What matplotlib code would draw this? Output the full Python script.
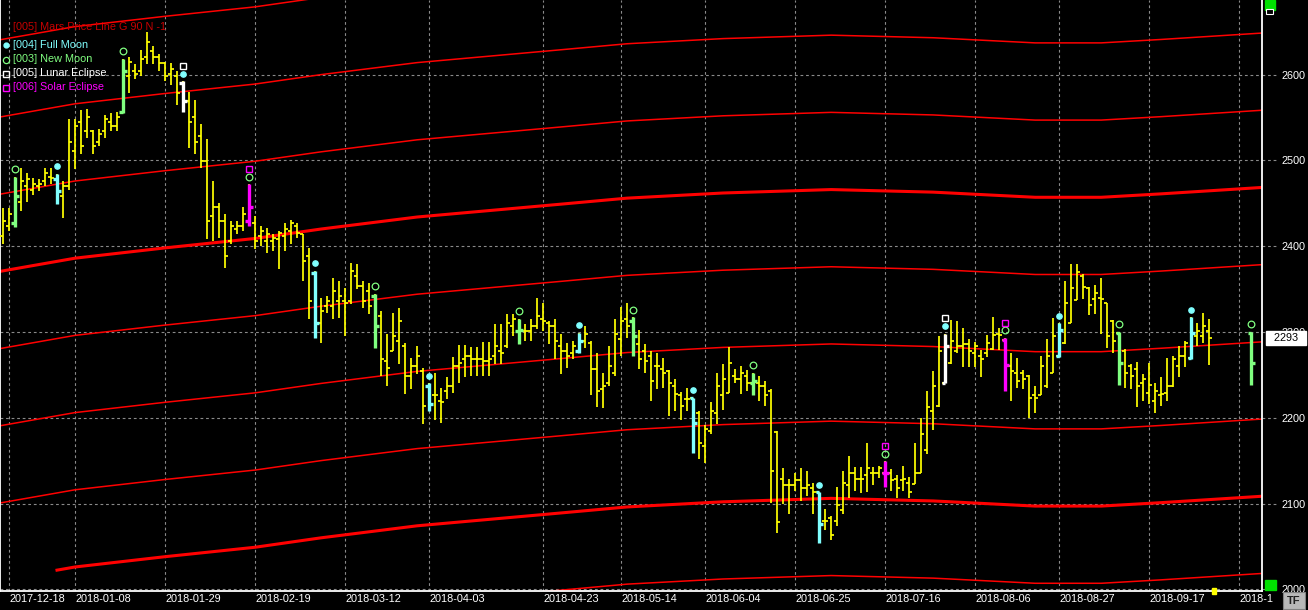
import numpy as np
import matplotlib.pyplot as plt
from matplotlib.patches import Rectangle

W, H = 1308, 610
plt.rcParams['font.family'] = ['Liberation Sans', 'DejaVu Sans']

# daily OHLC, one bar per trading day
highs = [2445, 2444, 2481, 2491, 2485, 2479, 2478, 2491, 2491, 2484,
         2476, 2548, 2548, 2559, 2560, 2536, 2537, 2553, 2555, 2557,
         2618, 2621, 2612, 2629, 2650, 2633, 2624, 2615, 2613, 2604,
         2592, 2580, 2571, 2542, 2525, 2476, 2450, 2438, 2429, 2429,
         2446, 2472, 2435, 2423, 2421, 2414, 2418, 2427, 2431, 2427,
         2414, 2398, 2371, 2340, 2342, 2363, 2359, 2351, 2380, 2379,
         2359, 2357, 2344, 2324, 2298, 2322, 2328, 2287, 2270, 2284,
         2258, 2240, 2252, 2235, 2247, 2271, 2285, 2285, 2283, 2283,
         2288, 2288, 2309, 2309, 2321, 2321, 2315, 2309, 2315, 2340,
         2334, 2313, 2315, 2298, 2287, 2289, 2299, 2307, 2289, 2275,
         2252, 2284, 2315, 2329, 2334, 2317, 2302, 2286, 2278, 2275,
         2270, 2256, 2245, 2230, 2235, 2223, 2208, 2191, 2218, 2252,
         2263, 2283, 2257, 2260, 2256, 2252, 2249, 2243, 2233, 2185,
         2141, 2129, 2135, 2141, 2138, 2124, 2113, 2094, 2086, 2119,
         2138, 2155, 2142, 2143, 2170, 2143, 2144, 2149, 2140, 2133,
         2144, 2131, 2170, 2200, 2231, 2254, 2295, 2298, 2314, 2313,
         2305, 2292, 2288, 2279, 2297, 2317, 2305, 2293, 2276, 2270,
         2256, 2250, 2237, 2272, 2292, 2316, 2310, 2359, 2379, 2379,
         2367, 2352, 2355, 2363, 2334, 2314, 2300, 2280, 2263, 2265,
         2251, 2264, 2240, 2247, 2270, 2272, 2284, 2289, 2317, 2310,
         2322, 2315]
lows = [2402, 2418, 2422, 2441, 2452, 2460, 2464, 2470, 2473, 2449,
        2433, 2466, 2490, 2507, 2526, 2507, 2517, 2526, 2534, 2534,
        2555, 2578, 2595, 2598, 2612, 2612, 2604, 2592, 2588, 2565,
        2557, 2514, 2507, 2491, 2408, 2406, 2409, 2374, 2402, 2414,
        2418, 2423, 2397, 2400, 2392, 2394, 2373, 2394, 2402, 2409,
        2359, 2315, 2293, 2287, 2322, 2315, 2316, 2295, 2333, 2350,
        2328, 2321, 2281, 2249, 2237, 2278, 2263, 2228, 2234, 2251,
        2193, 2208, 2197, 2194, 2222, 2229, 2240, 2247, 2249, 2249,
        2249, 2249, 2263, 2263, 2281, 2295, 2286, 2289, 2289, 2304,
        2301, 2286, 2269, 2251, 2258, 2269, 2276, 2281, 2226, 2212,
        2211, 2237, 2249, 2272, 2293, 2272, 2257, 2252, 2220, 2234,
        2235, 2202, 2208, 2197, 2208, 2159, 2152, 2147, 2181, 2193,
        2209, 2229, 2241, 2228, 2231, 2226, 2220, 2214, 2101, 2066,
        2100, 2088, 2115, 2103, 2109, 2088, 2054, 2069, 2057, 2074,
        2088, 2106, 2115, 2112, 2113, 2121, 2130, 2119, 2115, 2106,
        2115, 2107, 2123, 2135, 2158, 2186, 2212, 2240, 2263, 2275,
        2259, 2259, 2259, 2247, 2271, 2279, 2279, 2231, 2219, 2235,
        2233, 2200, 2206, 2226, 2235, 2252, 2271, 2286, 2310, 2337,
        2338, 2320, 2321, 2298, 2281, 2275, 2238, 2235, 2234, 2212,
        2220, 2216, 2205, 2214, 2219, 2236, 2247, 2259, 2268, 2284,
        2287, 2262]
opens = [2412, 2423, 2427, 2452, 2470, 2466, 2470, 2476, 2481, 2478,
         2458, 2470, 2511, 2545, 2534, 2534, 2522, 2534, 2545, 2540,
         2557, 2598, 2604, 2604, 2621, 2627, 2621, 2613, 2601, 2598,
         2590, 2569, 2551, 2528, 2499, 2435, 2446, 2429, 2406, 2420,
         2423, 2429, 2427, 2412, 2406, 2406, 2408, 2412, 2418, 2423,
         2414, 2388, 2369, 2310, 2330, 2330, 2336, 2336, 2336, 2365,
         2354, 2348, 2342, 2319, 2266, 2278, 2289, 2284, 2249, 2260,
         2255, 2237, 2226, 2220, 2231, 2237, 2260, 2269, 2272, 2269,
         2269, 2266, 2272, 2278, 2284, 2307, 2301, 2301, 2301, 2307,
         2315, 2310, 2307, 2284, 2278, 2276, 2278, 2289, 2287, 2257,
         2234, 2241, 2252, 2292, 2315, 2313, 2286, 2278, 2272, 2260,
         2257, 2255, 2237, 2226, 2222, 2223, 2205, 2167, 2185, 2206,
         2226, 2229, 2249, 2245, 2249, 2240, 2241, 2237, 2231, 2183,
         2129, 2121, 2121, 2127, 2118, 2118, 2113, 2080, 2083, 2080,
         2092, 2121, 2136, 2129, 2133, 2136, 2136, 2136, 2136, 2129,
         2127, 2124, 2123, 2136, 2162, 2208, 2214, 2241, 2264, 2278,
         2284, 2286, 2276, 2272, 2276, 2280, 2298, 2291, 2260, 2252,
         2252, 2249, 2226, 2226, 2237, 2252, 2272, 2287, 2310, 2337,
         2365, 2351, 2338, 2340, 2334, 2313, 2299, 2278, 2260, 2257,
         2240, 2229, 2220, 2226, 2229, 2237, 2260, 2272, 2270, 2295,
         2295, 2301]
closes = [2429, 2438, 2458, 2476, 2478, 2473, 2472, 2485, 2479, 2464,
          2470, 2522, 2540, 2517, 2551, 2517, 2531, 2548, 2540, 2551,
          2604, 2615, 2601, 2618, 2638, 2621, 2613, 2598, 2606, 2578,
          2569, 2545, 2522, 2499, 2429, 2446, 2429, 2388, 2423, 2423,
          2438, 2446, 2406, 2418, 2414, 2409, 2415, 2420, 2427, 2415,
          2383, 2336, 2310, 2324, 2336, 2348, 2342, 2334, 2371, 2354,
          2336, 2330, 2307, 2269, 2258, 2295, 2313, 2249, 2260, 2272,
          2214, 2216, 2226, 2218, 2237, 2260, 2264, 2272, 2269, 2269,
          2266, 2269, 2284, 2276, 2310, 2315, 2302, 2301, 2307, 2319,
          2313, 2307, 2289, 2278, 2272, 2284, 2289, 2298, 2257, 2231,
          2237, 2260, 2298, 2313, 2307, 2295, 2269, 2266, 2243, 2260,
          2252, 2240, 2228, 2214, 2222, 2194, 2170, 2187, 2208, 2237,
          2245, 2264, 2245, 2252, 2241, 2243, 2237, 2226, 2138, 2078,
          2121, 2121, 2127, 2118, 2121, 2113, 2076, 2080, 2063, 2098,
          2124, 2136, 2129, 2129, 2141, 2136, 2141, 2136, 2127, 2118,
          2129, 2113, 2136, 2181, 2213, 2237, 2278, 2284, 2289, 2284,
          2286, 2278, 2284, 2269, 2287, 2297, 2297, 2262, 2255, 2243,
          2245, 2223, 2223, 2260, 2272, 2295, 2302, 2334, 2351, 2370,
          2352, 2331, 2345, 2338, 2295, 2289, 2264, 2252, 2249, 2237,
          2245, 2238, 2231, 2228, 2237, 2269, 2272, 2287, 2299, 2301,
          2307, 2293]

# lunar / eclipse events (bar index)
full_moon = [9, 30, 52, 71, 96, 115, 136, 157, 176, 198]
new_moon = [2, 20, 41, 62, 86, 105, 125, 147, 167, 186, 208]
lunar_eclipse = [30, 157]
solar_eclipse = [41, 147, 167]

# projected bar for the next new moon (open, high, low, close)
future_idx = 208
future_ohlc = [2299, 2300, 2238, 2264]

# Mars price line (base harmonic), read at a few bars
mars_idx = [-1, 12, 27, 42, 53, 69, 93, 104, 120, 138, 155, 172, 183, 193, 211]
mars_price = [2370, 2386, 2398, 2409, 2420, 2434, 2449, 2456, 2462, 2466,
              2463, 2457, 2457, 2461, 2469]
mars_steps = [-450, -360, -270, -180, -90, 0, 90, 180, 270]

tick_idx = [1, 12, 27, 42, 57, 71, 90, 103, 117, 132, 147, 162, 176, 191, 206]
tick_labels = ['2017-12-18', '2018-01-08', '2018-01-29', '2018-02-19',
               '2018-03-12', '2018-04-03', '2018-04-23', '2018-05-14',
               '2018-06-04', '2018-06-25', '2018-07-16', '2018-08-06',
               '2018-08-27', '2018-09-17', '2018-1']
price_ticks = [2000, 2100, 2200, 2300, 2400, 2500, 2600]
last_close = 2293

FM_C, NM_C, LE_C, SE_C = '#80ffff', '#80ff80', '#ffffff', '#ff00ff'
GRID = '#8a8a8a'

fig = plt.figure(figsize=(W / 100, H / 100), dpi=100, facecolor='black')
ax = fig.add_axes([0, 19 / H, 1262 / W, 591 / H])
ax.set_facecolor('black')
ax.set_xlim(-0.5, 209.8)
ax.set_ylim(1998, 2687)

# grid
ax.set_xticks(tick_idx)
ax.set_xticklabels(tick_labels, ha='left', color='white', fontsize=7.8)
ax.set_yticks(price_ticks)
ax.yaxis.tick_right()
ax.set_yticklabels([str(p) for p in price_ticks], color='white', fontsize=7.8)
ax.tick_params(axis='x', length=0, pad=2)
ax.tick_params(axis='y', length=0, pad=14)
ax.grid(True, color=GRID, ls=(0, (2.5, 2.5)), lw=0.8)
ax.set_axisbelow(True)
for p in price_ticks:
    ax.plot([1.0, 1.013], [p, p], transform=ax.get_yaxis_transform(),
            color=GRID, ls=(0, (2.5, 2.5)), lw=0.8, clip_on=False)

# Mars price lines (the lowest visible one starts a few bars in)
mp = np.array(mars_price)
for k in mars_steps:
    thick = k % 360 == 0
    xs, ys = np.array(mars_idx, dtype=float), mp + k
    if k == -360:
        keep = xs > 9
        xs = np.r_[9, xs[keep]]
        ys = np.r_[np.interp(9, mars_idx, mp + k), ys[keep]]
    ax.plot(xs, ys, color='#ff0000', lw=2.2 if thick else 1.1, zorder=2)

# OHLC bars
x = np.arange(len(highs))
bar_kw = dict(color='#ffff00', lw=1.25, zorder=3)
ax.vlines(x, lows, highs, **bar_kw)
ax.hlines(opens, x - 0.55, x, **bar_kw)
ax.hlines(closes, x, x + 0.55, **bar_kw)


def bar_ohlc(i):
    if i == future_idx:
        return future_ohlc
    return [opens[i], highs[i], lows[i], closes[i]]


events = sorted(set(full_moon + new_moon))
for i in events:
    o, h, l, c = bar_ohlc(i)
    if i in lunar_eclipse:
        col = LE_C
    elif i in solar_eclipse:
        col = SE_C
    elif i in full_moon:
        col = FM_C
    else:
        col = NM_C
    ev_kw = dict(color=col, lw=2.4, zorder=4)
    ax.vlines(i, l, h, **ev_kw)
    ax.hlines(o, i - 0.6, i, **ev_kw)
    ax.hlines(c, i, i + 0.6, **ev_kw)
    if i in full_moon:
        ax.plot(i, h + 9, 'o', ms=3.8, color=FM_C, mec=FM_C, zorder=5)
    else:
        ax.plot(i, h + 9, 'o', ms=4.8, mfc='none', mec=NM_C, mew=0.9, zorder=5)
    if i in lunar_eclipse:
        ax.plot(i, h + 18, 's', ms=5, mfc='none', mec=LE_C, mew=1.0, zorder=5)
    if i in solar_eclipse:
        ax.plot(i, h + 18, 's', ms=5, mfc='none', mec=SE_C, mew=1.0, zorder=5)

# last price box
ax.text(1.0045, last_close, '  2293  ', transform=ax.get_yaxis_transform(),
        color='black', fontsize=7.8, va='center', ha='left',
        bbox=dict(boxstyle='square,pad=0.2', fc='white', ec='white'))

for s in ['left', 'bottom', 'right']:
    ax.spines[s].set_color('white')
    ax.spines[s].set_linewidth(1.3)
ax.spines['top'].set_visible(False)

# legend
legend = [('[005] Mars Price Line G 90 N -1', '#c80000', None, 27),
          ('[004] Full Moon', FM_C, 'dot', 45),
          ('[003] New Moon', NM_C, 'circle', 59.5),
          ('[005] Lunar Eclipse', LE_C, 'square', 73.5),
          ('[006] Solar Eclipse', SE_C, 'square', 87.5)]
for txt, col, mk, py in legend:
    fig.text(13 / W, 1 - py / H, txt, color=col, fontsize=7.8, va='center', ha='left')
    if mk == 'dot':
        fig.add_artist(plt.Line2D([6 / W], [1 - py / H], marker='o', ms=3.5,
                                  color=col, transform=fig.transFigure))
    elif mk == 'circle':
        fig.add_artist(plt.Line2D([6 / W], [1 - py / H], marker='o', ms=4.5,
                                  mfc='none', mec=col, mew=0.9, transform=fig.transFigure))
    elif mk == 'square':
        fig.add_artist(plt.Line2D([6 / W], [1 - py / H], marker='s', ms=4.5,
                                  mfc='none', mec=col, mew=1.0, transform=fig.transFigure))


def px_rect(x0, y0, w, h, **kw):
    fig.add_artist(Rectangle((x0 / W, 1 - (y0 + h) / H), w / W, h / H,
                             transform=fig.transFigure, **kw))


px_rect(1265, 0, 10, 10, color='#00e000')
px_rect(1266, 9, 7, 5, fc='black', ec='white', lw=0.8)
px_rect(1265, 580, 11, 10, color='#00e000')
px_rect(1283, 592, 22, 17, fc='#b8b8b8', ec='#808080', lw=0.8)
fig.text(1294 / W, 1 - 600.5 / H, 'TF', color='#202020', fontsize=8,
         ha='center', va='center', fontweight='bold')
px_rect(1212, 588, 4, 6, color='#ffff00')

fig.savefig('out.png', dpi=100, facecolor='black')
